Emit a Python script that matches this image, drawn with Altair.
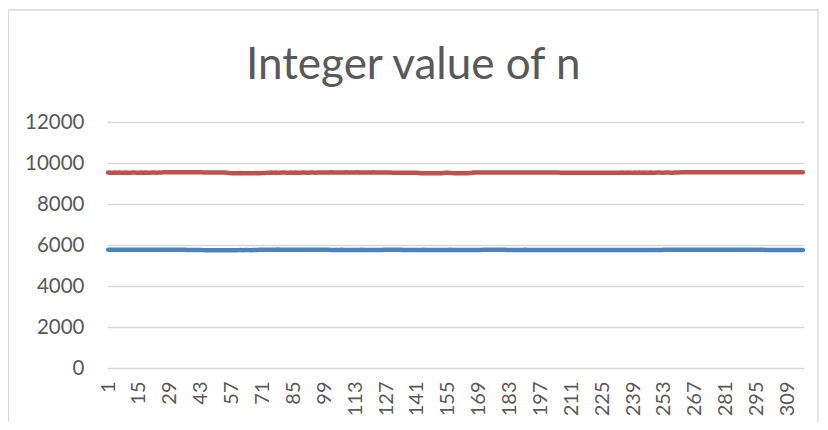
import altair as alt
import pandas as pd

title_text = "Integer value of n"
y_ticks = [0, 2000, 4000, 6000, 8000, 10000, 12000]
x_tick_labels = [1, 15, 29, 43, 57, 71, 85, 99, 113, 127, 141, 155, 169, 183,
                 197, 211, 225, 239, 253, 267, 281, 295, 309]

series_names = ["Series1", "Series2"]
series_colors = ["#4F81BD", "#C0504D"]

series1 = [
    5771, 5768, 5770, 5773, 5769, 5771, 5767, 5770, 5772, 5769, 5771, 5773, 5770, 5768, 5771, 5770, 5772, 5769, 5771, 5770,
    5768, 5771, 5773, 5770, 5769, 5772, 5770, 5768, 5771, 5773, 5770, 5769, 5771, 5770, 5767, 5765, 5761, 5759, 5762, 5760,
    5758, 5761, 5756, 5750, 5746, 5744, 5747, 5745, 5743, 5746, 5744, 5742, 5745, 5743, 5746, 5744, 5742, 5745, 5748, 5750,
    5752, 5749, 5751, 5753, 5750, 5748, 5751, 5752, 5756, 5764, 5770, 5772, 5769, 5771, 5774, 5770, 5772, 5775, 5771, 5773,
    5770, 5772, 5774, 5771, 5769, 5772, 5770, 5768, 5766, 5764, 5767, 5765, 5763, 5766, 5764, 5767, 5765, 5763, 5766, 5764,
    5765, 5762, 5760, 5762, 5759, 5761, 5763, 5760, 5758, 5761, 5759, 5762, 5760, 5758, 5761, 5763, 5760, 5759, 5761, 5762,
    5760, 5758, 5761, 5759, 5762, 5764, 5767, 5770, 5772, 5771, 5773, 5770, 5768, 5765, 5762, 5760, 5758, 5761, 5759, 5762,
    5760, 5758, 5761, 5763, 5760, 5759, 5761, 5758, 5760, 5762, 5759, 5761, 5760, 5758, 5761, 5763, 5760, 5759, 5761, 5758,
    5760, 5762, 5759, 5761, 5760, 5758, 5761, 5759, 5762, 5760, 5763, 5766, 5769, 5771, 5773, 5770, 5772, 5771, 5769, 5766,
    5763, 5760, 5758, 5761, 5759, 5762, 5760, 5758, 5761, 5763, 5760, 5759, 5761, 5758, 5760, 5762, 5759, 5761, 5760, 5758,
    5761, 5759, 5762, 5760, 5758, 5756, 5755, 5753, 5756, 5754, 5752, 5755, 5753, 5756, 5754, 5752, 5755, 5757, 5754, 5756,
    5753, 5755, 5757, 5754, 5752, 5755, 5753, 5756, 5754, 5752, 5755, 5753, 5756, 5754, 5757, 5755, 5753, 5756, 5754, 5752,
    5755, 5753, 5756, 5754, 5757, 5755, 5753, 5756, 5754, 5757, 5759, 5762, 5764, 5766, 5763, 5765, 5767, 5764, 5766, 5768,
    5765, 5763, 5766, 5764, 5767, 5765, 5763, 5766, 5768, 5765, 5764, 5766, 5763, 5765, 5767, 5764, 5766, 5765, 5763, 5766,
    5768, 5765, 5764, 5766, 5763, 5765, 5767, 5764, 5766, 5765, 5763, 5766, 5768, 5765, 5764, 5766, 5763, 5765, 5762, 5760,
    5758, 5761, 5759, 5757, 5760, 5758, 5756, 5759, 5761, 5758, 5760, 5757, 5759, 5761, 5758, 5760,
]

series2 = [
    9532, 9528, 9530, 9533, 9529, 9531, 9527, 9530, 9534, 9530, 9528, 9531, 9533, 9529, 9530, 9532, 9528, 9531, 9530, 9529,
    9531, 9533, 9530, 9536, 9542, 9545, 9547, 9544, 9546, 9543, 9545, 9548, 9544, 9546, 9545, 9543, 9547, 9545, 9544, 9546,
    9543, 9545, 9547, 9542, 9540, 9538, 9541, 9536, 9534, 9537, 9535, 9533, 9536, 9532, 9520, 9508, 9504, 9506, 9503, 9505,
    9507, 9504, 9502, 9505, 9506, 9503, 9505, 9507, 9504, 9506, 9510, 9515, 9522, 9528, 9531, 9529, 9532, 9530, 9528, 9531,
    9533, 9530, 9529, 9531, 9530, 9532, 9528, 9530, 9531, 9533, 9529, 9530, 9532, 9531, 9529, 9533, 9536, 9540, 9542, 9539,
    9541, 9543, 9540, 9538, 9541, 9542, 9539, 9540, 9543, 9541, 9538, 9540, 9542, 9544, 9541, 9539, 9540, 9542, 9538, 9541,
    9543, 9540, 9539, 9541, 9542, 9538, 9540, 9536, 9531, 9527, 9524, 9526, 9523, 9525, 9527, 9524, 9522, 9526, 9525, 9523,
    9520, 9512, 9503, 9500, 9498, 9501, 9499, 9502, 9500, 9497, 9501, 9505, 9514, 9520, 9522, 9515, 9508, 9504, 9506, 9503,
    9505, 9507, 9504, 9506, 9510, 9520, 9532, 9535, 9537, 9534, 9536, 9538, 9535, 9533, 9536, 9534, 9537, 9535, 9533, 9536,
    9538, 9535, 9534, 9536, 9533, 9537, 9535, 9534, 9536, 9538, 9535, 9533, 9536, 9534, 9535, 9537, 9534, 9536, 9535, 9533,
    9536, 9534, 9537, 9535, 9532, 9530, 9528, 9525, 9523, 9526, 9524, 9527, 9525, 9523, 9526, 9524, 9525, 9527, 9523, 9525,
    9526, 9524, 9522, 9525, 9527, 9524, 9526, 9523, 9525, 9527, 9524, 9526, 9529, 9531, 9530, 9528, 9532, 9530, 9529, 9531,
    9530, 9532, 9528, 9531, 9530, 9529, 9532, 9530, 9528, 9531, 9533, 9530, 9529, 9531, 9532, 9530, 9528, 9531, 9535, 9540,
    9544, 9546, 9543, 9545, 9547, 9544, 9546, 9548, 9545, 9543, 9546, 9544, 9547, 9545, 9543, 9546, 9548, 9545, 9544, 9546,
    9543, 9545, 9547, 9544, 9546, 9545, 9543, 9546, 9548, 9544, 9545, 9547, 9543, 9546, 9544, 9545, 9547, 9546, 9543, 9545,
    9546, 9544, 9547, 9545, 9543, 9546, 9545, 9547, 9544, 9546, 9545, 9543, 9546, 9548, 9545, 9544,
]

n_points = len(series1)
rows = []
for name, vals in zip(series_names, [series1, series2]):
    for i, v in enumerate(vals):
        rows.append({"n": i + 1, "value": v, "series": name})
df = pd.DataFrame(rows)

FONT = "Lato"
TEXT = "#595959"
GRID = "#D9D9D9"

lines = alt.Chart(df).mark_line(strokeWidth=4.5, strokeCap="round", strokeJoin="round").encode(
    x=alt.X("n:Q",
            scale=alt.Scale(domain=[0.5, n_points + 0.5], nice=False, zero=False),
            axis=alt.Axis(values=x_tick_labels, title=None, grid=False, ticks=False, domain=False,
                          labelAngle=270, labelAlign="right", labelBaseline="middle",
                          labelPadding=13, labelFontSize=20, labelColor=TEXT, labelFont=FONT,
                          labelOverlap=False, labelFlush=False, format="d")),
    y=alt.Y("value:Q",
            scale=alt.Scale(domain=[0, 12000], nice=False),
            axis=alt.Axis(values=y_ticks, title=None, grid=True, gridColor=GRID, gridWidth=1.3,
                          ticks=False, domain=False, labelPadding=23, labelFontSize=20.5,
                          labelColor=TEXT, labelFont=FONT, format="d")),
    color=alt.Color("series:N", scale=alt.Scale(domain=series_names, range=series_colors), legend=None),
)

frame = alt.Chart(pd.DataFrame({"k": [0]})).mark_rect(fill="transparent", stroke=GRID, strokeWidth=1.3).encode(
    x=alt.value(-98.5), x2=alt.value(711), y=alt.value(-112), y2=alt.value(330)
)

chart = alt.layer(frame, lines).properties(
    width=697, height=246,
    background="white",
    title=alt.TitleParams(title_text, fontSize=44, font=FONT, color=TEXT, fontWeight="normal",
                          anchor="middle", frame="bounds", offset=-79),
    autosize=alt.AutoSizeParams(type="none"),
    padding={"left": 99, "top": 114, "right": 16, "bottom": 54},
).configure_view(stroke="transparent", strokeWidth=0)

chart.save("out.html", embed_options={"renderer": "svg", "actions": False})
